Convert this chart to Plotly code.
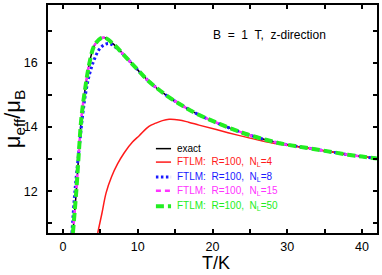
import plotly.graph_objects as go

# exact curve (also N_L=15 and N_L=50 which coincide with it)
T_exact = [1.33, 1.78, 2.13, 2.45, 2.89, 3.55, 4.22, 5.1, 5.6, 6.9, 8.4, 10.0, 11.5, 13.75,
           16.0, 18.0, 20.4, 22.5, 24.8, 27.0, 29.3, 31.5, 33.7, 36.0, 38.1, 40.0, 42.0]
mu_exact = [10.70, 11.99, 13.22, 14.25, 15.07, 16.00, 16.55, 16.77, 16.78, 16.55, 16.18, 15.78, 15.42, 15.00,
            14.66, 14.40, 14.15, 13.95, 13.76, 13.61, 13.48, 13.39, 13.31, 13.22, 13.14, 13.08, 13.02]

# FTLM N_L=4
T_nl4 = [4.65, 5.2, 5.77, 6.5, 7.3, 8.2, 9.3, 10.2, 11.5, 12.4, 13.3, 14.2, 15.5, 16.8, 18.2,
         20.5, 23.5, 26.0, 28.0, 29.3, 31.5, 33.7, 36.0, 38.1, 40.0, 42.0]
mu_nl4 = [10.70, 11.30, 11.95, 12.45, 12.85, 13.20, 13.53, 13.73, 14.02, 14.12, 14.20, 14.24, 14.22, 14.15, 14.06,
          13.92, 13.74, 13.60, 13.50, 13.46, 13.38, 13.31, 13.22, 13.14, 13.08, 13.02]

# FTLM N_L=8
T_nl8 = [1.2, 1.6, 2.2, 2.6, 3.0, 3.5, 4.1, 4.8, 5.5, 6.2, 7.1, 8.4, 10.0, 11.5, 13.75,
         16.0, 18.0, 20.4, 22.5, 24.8, 27.0, 29.3, 31.5, 33.7, 36.0, 38.1, 40.0, 42.0]
mu_nl8 = [10.70, 12.00, 13.40, 14.30, 15.00, 15.60, 16.05, 16.40, 16.56, 16.60, 16.47, 16.18, 15.78, 15.42, 15.00,
          14.66, 14.40, 14.15, 13.95, 13.76, 13.61, 13.48, 13.39, 13.31, 13.22, 13.14, 13.08, 13.02]

# FTLM N_L=15 and N_L=50 (indistinguishable from exact)
T_nl15 = T_exact
mu_nl15 = mu_exact
T_nl50 = T_exact
mu_nl50 = mu_exact

x_ticks = [0, 10, 20, 30, 40]
y_ticks = [12, 14, 16]

series_labels = ["exact",
                 "FTLM:  R=100,  N<sub>L</sub>=4",
                 "FTLM:  R=100,  N<sub>L</sub>=8",
                 "FTLM:  R=100,  N<sub>L</sub>=15",
                 "FTLM:  R=100,  N<sub>L</sub>=50"]

font_fam = "Liberation Sans, Arial, sans-serif"

styles = [
    dict(color="black", width=1.5, dash="solid"),
    dict(color="#ff1a1a", width=1.5, dash="solid"),
    dict(color="#1a1aff", width=3, dash="2.5px,2.5px"),
    dict(color="#ff33ff", width=2.5, dash="5px,4px"),
    dict(color="#22ee22", width=4, dash="8px,4px"),
]
series = [(T_exact, mu_exact), (T_nl4, mu_nl4), (T_nl8, mu_nl8), (T_nl15, mu_nl15), (T_nl50, mu_nl50)]

fig = go.Figure()
for (xs, ys), st, lab in zip(series, styles, series_labels):
    fig.add_trace(go.Scatter(x=xs, y=ys, mode="lines", name=lab, showlegend=False, hoverinfo="skip",
                             line=dict(color=st["color"], width=st["width"], dash=st["dash"], shape="spline")))

# hand-made legend (compact row spacing like the reference)
leg_rows = [0.370, 0.311, 0.246, 0.185, 0.117]
for yr, st, lab in zip(leg_rows, styles, series_labels):
    fig.add_shape(type="line", xref="paper", yref="paper", x0=0.328, x1=0.374, y0=yr, y1=yr,
                  line=dict(color=st["color"], width=st["width"], dash=st["dash"]))
    fig.add_annotation(x=0.387, y=yr, xref="paper", yref="paper", xanchor="left", yanchor="middle",
                       text=lab, showarrow=False,
                       font=dict(size=10, color=st["color"], family=font_fam))

fig.add_annotation(x=0.674, y=0.87, xref="paper", yref="paper", xanchor="center", yanchor="middle",
                   text="B  =  1  T,  z-direction",
                   showarrow=False, font=dict(size=12, color="black", family=font_fam))

# x-axis title placed explicitly at the bottom edge
fig.add_annotation(x=0.512, y=-0.18, xref="paper", yref="paper", xanchor="center", yanchor="bottom",
                   text="T/K", showarrow=False, borderpad=0,
                   font=dict(size=18, color="black", family=font_fam))

axis_common = dict(showline=True, linecolor="black", linewidth=1.5, mirror="ticks", ticks="inside",
                   ticklen=4, tickwidth=1.5, tickcolor="black", showgrid=False, zeroline=False,
                   tickfont=dict(size=12.5, color="black", family=font_fam))

fig.update_xaxes(range=[-2, 42], tickvals=x_ticks,
                 minor=dict(dtick=5, tick0=0, ticks="inside", ticklen=4, tickwidth=1.5, tickcolor="black"),
                 ticklabelstandoff=1,
                 **axis_common)
fig.update_yaxes(range=[10.7, 17.8], tickvals=y_ticks,
                 minor=dict(dtick=1, tick0=0, ticks="inside", ticklen=4, tickwidth=1.5, tickcolor="black"),
                 title=dict(text="μ<sub>eff</sub>/μ<sub>B</sub>", font=dict(size=22, color="black", family=font_fam), standoff=4),
                 ticklabelstandoff=6,
                 **axis_common)

fig.update_layout(width=382, height=275, margin=dict(l=48, r=3, t=3, b=42),
                  plot_bgcolor="white", paper_bgcolor="white", showlegend=False)

fig.write_html("out.html", config={"displayModeBar": False},
               post_script="document.body.style.margin='0px';")
